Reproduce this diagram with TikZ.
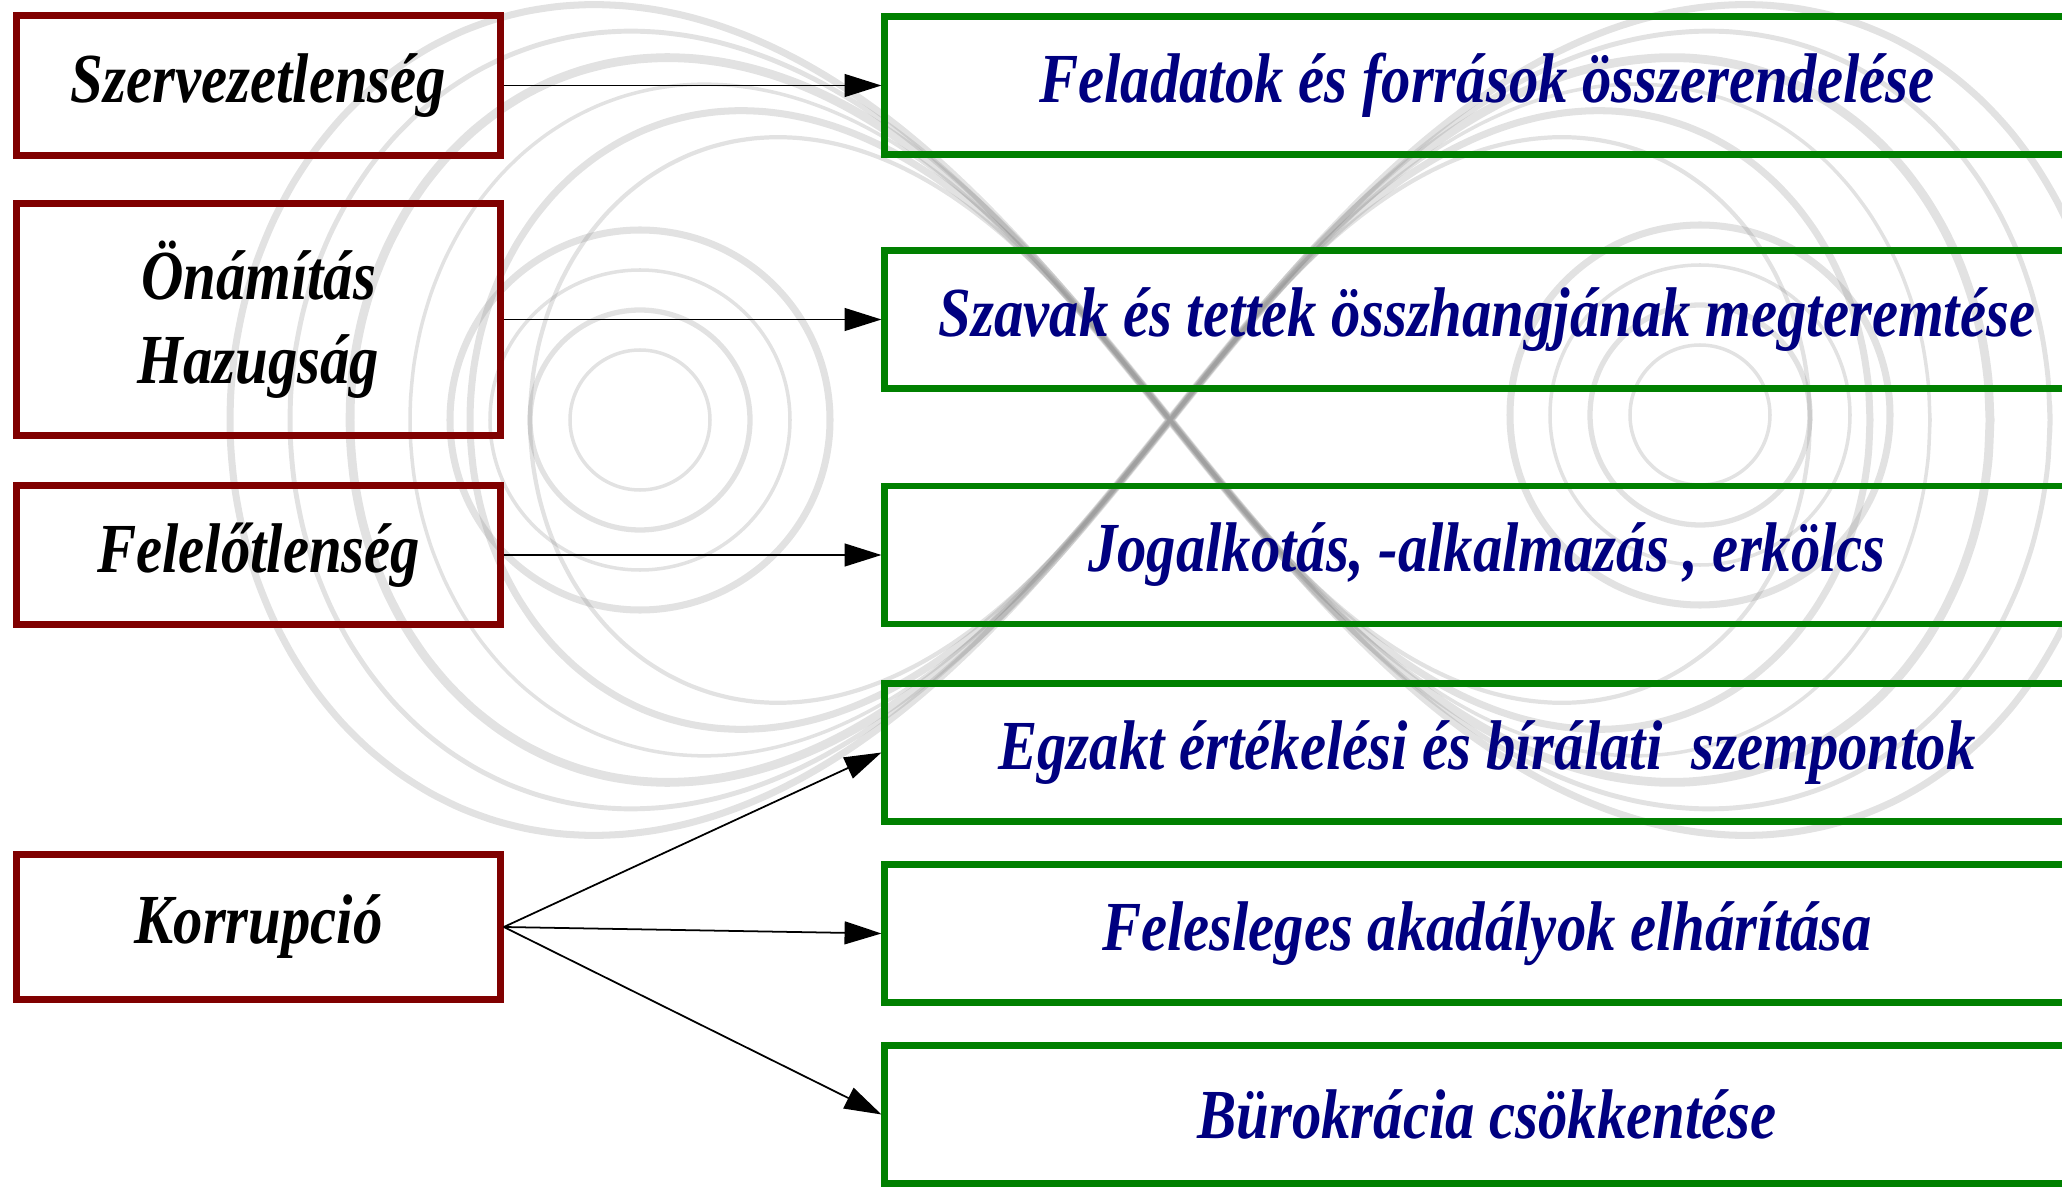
\documentclass[tikz,border=0pt]{standalone}
\usepackage{fontspec}
\setmainfont{Liberation Serif}[FakeStretch=0.835]
\usetikzlibrary{arrows.meta}
\tikzset{>={Triangle[length=10.5pt,width=6.5pt]}}
\definecolor{bajpiros}{RGB}{128,0,0}
\definecolor{megoldaszold}{RGB}{0,128,0}
\definecolor{szovegkek}{RGB}{0,0,128}
\tikzset{
  baj/.style={draw=bajpiros, line width=1.8pt, minimum width=4.84cm,
    align=center, font=\bfseries\itshape\fontsize{20}{24}\selectfont},
  megoldas/.style={draw=megoldaszold, line width=1.8pt, minimum width=12.04cm,
    minimum height=1.38cm, text=szovegkek,
    font=\bfseries\itshape\fontsize{20}{24}\selectfont},
  nyil/.style={->, line width=0.5pt},
  gyuru/.style={black!45, opacity=.25}
}

\begin{document}
\begin{tikzpicture}[x=0.01cm,y=-0.01cm]
    \clip (0,0) rectangle (2062,1188);
    % halvany vegtelen jel a hatterben
    \foreach \a/\w in {640/1.2pt,700/2pt,760/1pt,820/2.5pt,880/1.4pt,940/2pt} {
        \draw[gyuru, line width=\w] plot[domain=0:360, samples=160, smooth cycle]
          ({1170+\a*cos(\x)/(1+sin(\x)^2)}, {420+1.25*\a*sin(\x)*cos(\x)/(1+sin(\x)^2)});
      }
    \foreach \r/\w in {70/1pt,110/1.5pt,150/1pt,190/2pt} {
        \draw[gyuru, line width=\w] (640,420) circle (\r);
        \draw[gyuru, line width=\w] (1700,415) circle (\r);
      }
    \node[baj, minimum height=1.40cm] (szerv) at (258.5,85.5) {Szervezetlenség};
    \node[baj, minimum height=2.32cm] (onam) at (258.5,319.5) {Önámítás\\Hazugság};
    \node[baj, minimum height=1.39cm] (felel) at (258.5,555) {Felelőtlenség};
    \node[baj, minimum height=1.45cm] (korr) at (258.5,927) {Korrupció};

    \node[megoldas] (feladat) at (1487,85.5) {Feladatok és források összerendelése};
    \node[megoldas] (szavak) at (1487,319.5) {Szavak és tettek összhangjának megteremtése};
    \node[megoldas] (jog) at (1487,555) {Jogalkotás, -alkalmazás , erkölcs};
    \node[megoldas] (egzakt) at (1487,752.5) {Egzakt értékelési és bírálati\ \ szempontok};
    \node[megoldas] (akadaly) at (1487,933.5) {Felesleges akadályok elhárítása};
    \node[megoldas] (burokr) at (1487,1114.5) {Bürokrácia csökkentése};

    \draw[nyil] (szerv) -- (feladat);
    \draw[nyil] (onam) -- (szavak);
    \draw[nyil] (felel) -- (jog);
    \draw[nyil] (korr.east) -- (egzakt.west);
    \draw[nyil] (korr.east) -- (akadaly.west);
    \draw[nyil] (korr.east) -- (burokr.west);
  \end{tikzpicture}
\end{document}
